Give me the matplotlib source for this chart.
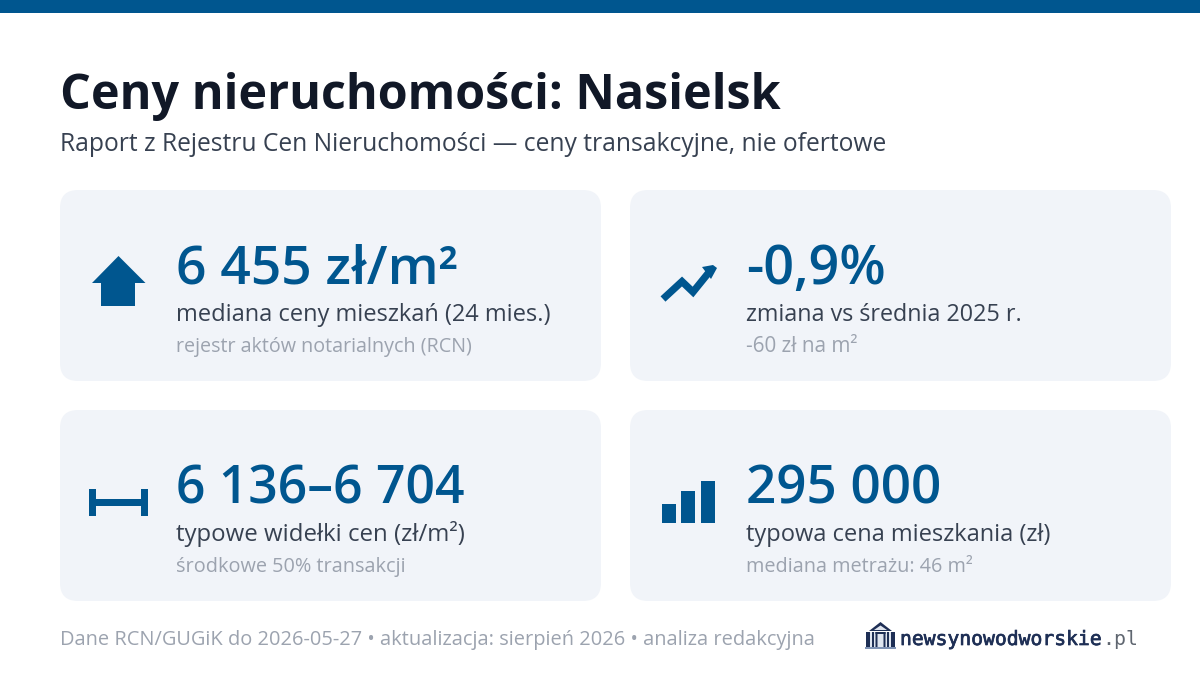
import matplotlib
matplotlib.use("Agg")
import matplotlib.pyplot as plt
import matplotlib.patheffects as pe
from matplotlib.patches import FancyBboxPatch, Polygon, Rectangle

plt.rcParams['font.family'] = ['Open Sans', 'Noto Sans', 'DejaVu Sans']

TITLE = "Ceny nieruchomości: Nasielsk"
SUBTITLE = "Raport z Rejestru Cen Nieruchomości — ceny transakcyjne, nie ofertowe"
VALUES = ["6 455 zł/m²", "-0,9%", "6 136–6 704", "295 000"]
LABELS = ["mediana ceny mieszkań (24 mies.)", "zmiana vs średnia 2025 r.",
          "typowe widełki cen (zł/m²)", "typowa cena mieszkania (zł)"]
NOTES = ["rejestr aktów notarialnych (RCN)", "-60 zł na m²",
         "środkowe 50% transakcji", "mediana metrażu: 46 m²"]
FOOTER = "Dane RCN/GUGiK do 2026-05-27 • aktualizacja: sierpień 2026 • analiza redakcyjna"
LOGO = "newsynowodworskie"
LOGO_TLD = ".pl"

BLUE = "#00568f"
INK = "#111827"
SLATE = "#374151"
MUTED = "#9ca3af"
CARD = "#f1f4f9"
NAVY = "#1e2f55"

fig = plt.figure(figsize=(12, 6.75), dpi=100, facecolor="white")
ax = fig.add_axes([0, 0, 1, 1])
ax.set_xlim(0, 1200)
ax.set_ylim(675, 0)
ax.axis("off")
renderer = fig.canvas.get_renderer()


def fit_text(s, x, y, right, color, weight="normal", family=None, start=20, stroke=0):
    """Baseline-anchored text, sized so that it ends at pixel `right`."""
    kw = {"family": family} if family else {}
    t = ax.text(x, y, s, color=color, fontweight=weight, fontsize=start,
                va="baseline", ha="left", **kw)
    w = t.get_window_extent(renderer).width
    t.set_fontsize(start * (right - x) / w)
    if stroke:
        t.set_path_effects([pe.withStroke(linewidth=stroke, foreground=color)])
    return t


def box(x, y, w, h, color=BLUE):
    ax.add_patch(Rectangle((x, y), w, h, fc=color, ec="none", snap=False))


box(0, 0, 1200, 13)
fit_text(TITLE, 60, 109, 781, INK, "bold", start=36)
fit_text(SUBTITLE, 60, 151, 884, SLATE)

card_x = [60, 630, 60, 630]
card_y = [190, 190, 410, 410]
value_right = [459, 886, 465, 942]
label_right = [550, 1022, 465, 1051]
note_right = [473, 858, 405, 973]

for i in range(4):
    x0, y0 = card_x[i], card_y[i]
    r = 18
    ax.add_patch(FancyBboxPatch((x0 + r, y0 + r), 541 - 2 * r, 191 - 2 * r,
                                boxstyle=f"round,pad={r},rounding_size={r}",
                                fc=CARD, ec="none"))
    tx = x0 + 116.5
    fit_text(VALUES[i], tx, y0 + 94, value_right[i], BLUE, "semibold", start=36)
    fit_text(LABELS[i], tx, y0 + 131, label_right[i], SLATE)
    fit_text(NOTES[i], tx, y0 + 162, note_right[i], MUTED)

# house icon
ax.add_patch(Polygon([(118.5, 256), (145.5, 283), (135, 283), (135, 306),
                      (101, 306), (101, 283), (92, 283)], fc=BLUE, ec="none"))
# trend icon
ax.plot([663, 682, 693, 710], [299, 281.5, 292, 271], color=BLUE, lw=5.2,
        solid_capstyle="butt", solid_joinstyle="miter")
ax.add_patch(Polygon([(702, 267), (713, 265), (717, 268), (711, 279)], fc=BLUE, ec="none"))
# range icon
box(89, 489, 7, 27)
box(141, 489, 7, 27)
box(96, 499, 45, 7)
# bars icon
box(662, 504, 14, 19)
box(681, 491, 14, 32)
box(701, 481, 14, 42)

fit_text(FOOTER, 60, 645, 814, MUTED)

# logo mark
ax.add_patch(Polygon([(880.5, 622), (892, 631), (869, 631)], fc=NAVY, ec="none"))
ax.add_patch(Polygon([(880.5, 625.5), (887, 630), (874, 630)], fc="#dfe5ef", ec="none"))
box(869, 632, 23, 15, "#dfe5ef")
for cx, cw in [(866, 4), (872, 2), (875.5, 2), (883.5, 2), (887, 2), (891, 4)]:
    box(cx, 632, cw, 15, NAVY)
box(875.5, 632, 10, 2, NAVY)
box(865, 647, 31, 2, "#7f93b5")

fit_text(LOGO, 900, 645, 1102, NAVY, "normal", family="DejaVu Sans Mono", stroke=0.5)
fit_text(LOGO_TLD, 1102, 645, 1138, "#5f6670", "normal", family="DejaVu Sans Mono")

fig.savefig("out.png", dpi=100, facecolor="white")
